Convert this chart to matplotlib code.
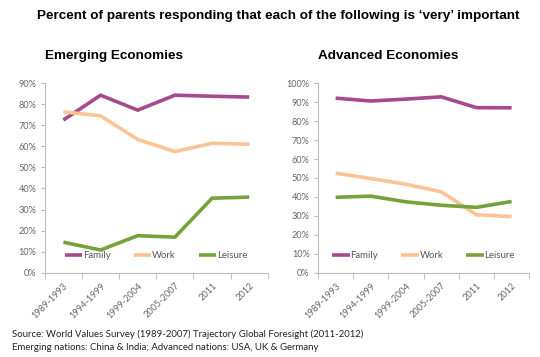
import matplotlib.pyplot as plt
from matplotlib.ticker import MultipleLocator, FuncFormatter, FixedLocator

# --- data ---
periods = ['1989-1993', '1994-1999', '1999-2004', '2005-2007', '2011', '2012']

emerging_family = [72.5, 84.3, 77.2, 84.3, 83.8, 83.4]
emerging_work = [76.4, 74.5, 63.3, 57.5, 61.5, 61.0]
emerging_leisure = [14.5, 10.8, 17.6, 16.9, 35.4, 35.9]

advanced_family = [92.1, 90.6, 91.6, 92.8, 87.1, 87.0]
advanced_work = [52.5, 49.7, 46.7, 42.7, 30.6, 29.6]
advanced_leisure = [39.8, 40.4, 37.4, 35.6, 34.5, 37.6]

c_family = '#A6498F'
c_work = '#FCC495'
c_leisure = '#76A13B'
c_axis = '#BDBDBD'
c_text = '#666666'

plt.rcParams['font.family'] = ['Lato', 'DejaVu Sans']

fig = plt.figure(figsize=(5.4, 3.57), dpi=100)
fig.patch.set_facecolor('white')

fig.text(0.515, 0.955, "Percent of parents responding that each of the following is \u2018very\u2019 important",
         ha='center', va='center', fontsize=9.7, fontweight='bold', family='Liberation Sans')


def draw_panel(rect, fam, work, leis, ymax, title, title_x):
    ax = fig.add_axes(rect)
    x = range(len(periods))
    ax.plot(x, fam, color=c_family, lw=2.6, label='Family', solid_capstyle='butt')
    ax.plot(x, work, color=c_work, lw=2.6, label='Work', solid_capstyle='butt')
    ax.plot(x, leis, color=c_leisure, lw=2.6, label='Leisure', solid_capstyle='butt')
    ax.set_xlim(-0.5, len(periods) - 0.5)
    ax.set_ylim(0, ymax)
    ax.yaxis.set_major_locator(MultipleLocator(10))
    ax.yaxis.set_major_formatter(FuncFormatter(lambda v, p: f'{v:.0f}%'))
    ax.set_xticks(list(x))
    ax.set_xticklabels(periods, rotation=45, ha='right', rotation_mode='anchor')
    ax.xaxis.set_minor_locator(FixedLocator([i - 0.5 for i in range(len(periods) + 1)]))
    ax.tick_params(axis='x', which='major', length=0, pad=6, labelsize=6.6, colors=c_text)
    ax.tick_params(axis='x', which='minor', length=4, color=c_axis, direction='out')
    ax.tick_params(axis='y', length=3, color=c_axis, labelsize=6.6, labelcolor=c_text, pad=3)
    for s in ['top', 'right']:
        ax.spines[s].set_visible(False)
    for s in ['left', 'bottom']:
        ax.spines[s].set_color(c_axis)
        ax.spines[s].set_linewidth(0.8)
    leg = ax.legend(ncol=3, loc='lower center', bbox_to_anchor=(0.5, 0.02), frameon=False,
                    fontsize=6.9, handlelength=1.8, handletextpad=0.1, columnspacing=2.4)
    for t in leg.get_texts():
        t.set_color('#555555')
    fig.text(title_x, rect[1] + rect[3] + 0.075, title, ha='left', va='center',
             fontsize=9.7, fontweight='bold', family='Liberation Sans')
    return ax


draw_panel([0.083, 0.236, 0.413, 0.531], emerging_family, emerging_work, emerging_leisure,
           90, 'Emerging Economies', 0.083)
draw_panel([0.589, 0.236, 0.391, 0.531], advanced_family, advanced_work, advanced_leisure,
           100, 'Advanced Economies', 0.589)

fig.text(0.022, 0.065, 'Source: World Values Survey (1989-2007) Trajectory Global Foresight (2011-2012)',
         fontsize=6.9, color='#222222', va='center')
fig.text(0.022, 0.028, 'Emerging nations: China & India; Advanced nations: USA, UK & Germany',
         fontsize=6.9, color='#222222', va='center')

fig.savefig('out.png', dpi=100)
